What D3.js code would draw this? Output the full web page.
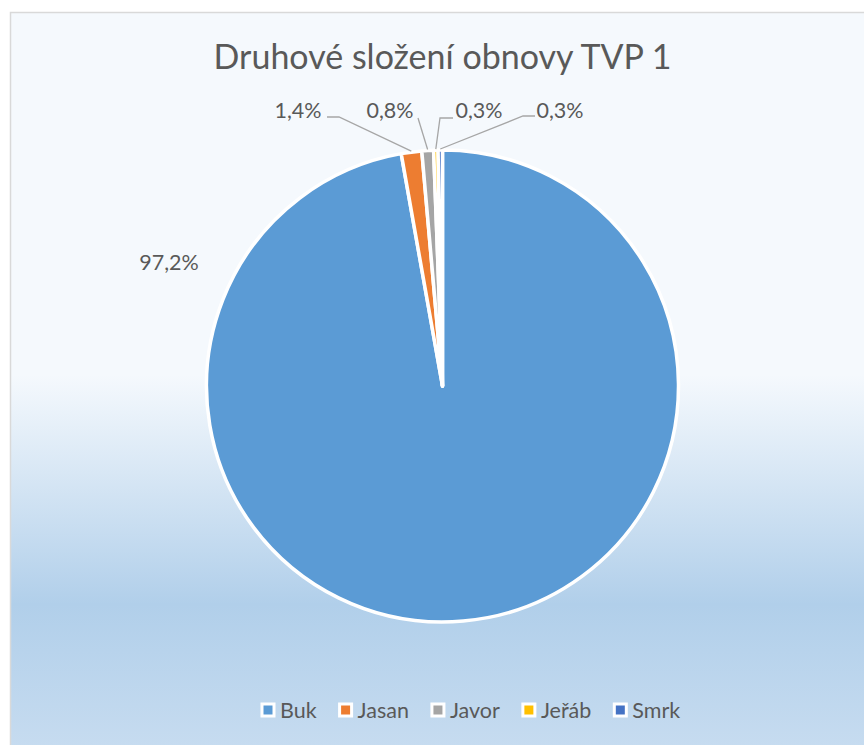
<!DOCTYPE html>
<html>
<head>
<meta charset="utf-8">
<script src="https://cdn.jsdelivr.net/npm/d3@7/dist/d3.min.js"></script>
<style>
  html, body { margin: 0; padding: 0; background: #fff; }
  svg { display: block; }
  text { font-family: Lato, "Open Sans", sans-serif; fill: #595959; }
</style>
</head>
<body>
<svg width="864" height="745"></svg>
<script>
var species = ["Buk", "Jasan", "Javor", "Jeřáb", "Smrk"];
var shares = [97.2, 1.4, 0.8, 0.3, 0.3];
var labels = ["97,2%", "1,4%", "0,8%", "0,3%", "0,3%"];
var colors = ["#5b9bd5", "#ed7d31", "#a5a5a5", "#ffc000", "#4472c4"];
var title = "Druhové složení obnovy TVP 1";

// where excel put the data labels (text centre) and the elbow of each leader line
var labelLayout = [
  {x: 169, y: 262, elbow: null},
  {x: 298, y: 110, elbow: [327, 117, 339, 117]},
  {x: 390, y: 110, elbow: [418, 118, 418, 118]},
  {x: 479, y: 110, elbow: [453, 118, 440, 118]},
  {x: 560, y: 110, elbow: [535, 116, 523, 116]}
];

var svg = d3.select("svg"),
    cx = 442.5,
    cy = 386,
    radius = 236;

var grad = svg.append("defs").append("linearGradient")
    .attr("id", "bg")
    .attr("x1", 0).attr("y1", 0).attr("x2", 0).attr("y2", 1);
grad.selectAll("stop")
  .data([[0, "#f5f9fd"], [0.49, "#f5f9fd"], [0.80, "#b1cfea"], [1, "#c7dcf0"]])
  .enter().append("stop")
  .attr("offset", function(d) { return d[0]; })
  .attr("stop-color", function(d) { return d[1]; });

svg.append("rect")
  .attr("x", 10.5).attr("y", 12.5)
  .attr("width", 900).attr("height", 740)
  .attr("fill", "url(#bg)")
  .attr("stroke", "#d9d9d9")
  .attr("stroke-width", 1.5);

svg.append("text")
  .attr("x", cx)
  .attr("y", 69)
  .attr("text-anchor", "middle")
  .style("font-size", "34px")
  .text(title);

var pie = d3.pie().sort(null).value(function(d) { return d; });
var arcs = pie(shares);
var arc = d3.arc().innerRadius(0).outerRadius(radius);

var g = svg.append("g").attr("transform", "translate(" + cx + "," + cy + ")");

g.selectAll("path.slice")
  .data(arcs)
  .enter().append("path")
  .attr("class", "slice")
  .attr("d", arc)
  .attr("fill", function(d, i) { return colors[i]; })
  .attr("stroke", "#fff")
  .attr("stroke-width", 3.5)
  .attr("stroke-linejoin", "round");

// leader lines to the middle of each thin slice's outer edge
var leaders = svg.append("g");
arcs.forEach(function(d, i) {
  var l = labelLayout[i];
  if (!l.elbow) return;
  var mid = (d.startAngle + d.endAngle) / 2;
  var px = cx + Math.sin(mid) * (radius + 1),
      py = cy - Math.cos(mid) * (radius + 1);
  leaders.append("path")
    .attr("d", "M" + l.elbow[0] + "," + l.elbow[1] + "L" + l.elbow[2] + "," + l.elbow[3] + "L" + px + "," + py)
    .attr("fill", "none")
    .attr("stroke", "#a6a6a6")
    .attr("stroke-width", 1.3);
});

svg.append("g").selectAll("text")
  .data(labels)
  .enter().append("text")
  .attr("x", function(d, i) { return labelLayout[i].x; })
  .attr("y", function(d, i) { return labelLayout[i].y; })
  .attr("dy", "0.35em")
  .attr("text-anchor", "middle")
  .style("font-size", "21.5px")
  .text(function(d) { return d; });

// legend
var legend = svg.append("g").attr("transform", "translate(0,710)");
var lx = 262;
species.forEach(function(name, i) {
  var item = legend.append("g").attr("transform", "translate(" + lx + ",0)");
  item.append("rect")
    .attr("x", 0).attr("y", -6)
    .attr("width", 12).attr("height", 12)
    .attr("fill", colors[i])
    .attr("stroke", "#fff")
    .attr("stroke-width", 3);
  var t = item.append("text")
    .attr("x", 18)
    .attr("dy", "0.35em")
    .style("font-size", "21.5px")
    .text(name);
  lx += 18 + t.node().getComputedTextLength() + 23;
});
</script>
</body>
</html>
